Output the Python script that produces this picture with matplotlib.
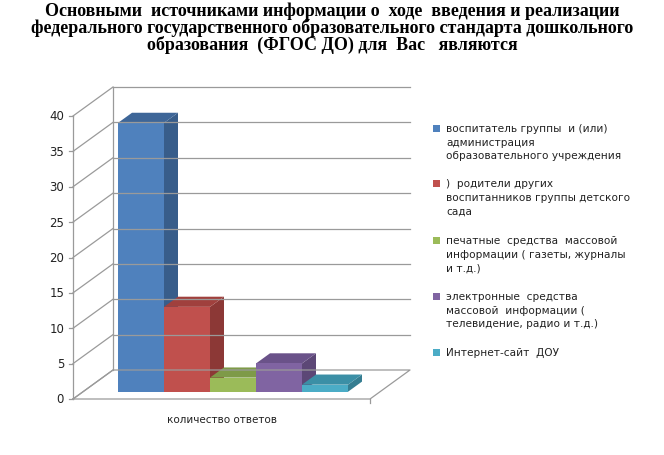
import matplotlib
matplotlib.use("Agg")
import matplotlib.pyplot as plt
from matplotlib.patches import Polygon

## data
title = ("Основными  источниками информации о  ходе  введения и реализации\n"
         "федерального государственного образовательного стандарта дошкольного\n"
         "образования  (ФГОС ДО) для  Вас   являются")
category = "количество ответов"
labels = ["воспитатель группы  и (или)\nадминистрация\nобразовательного учреждения",
          ")  родители других\nвоспитанников группы детского\nсада",
          "печатные  средства  массовой\nинформации ( газеты, журналы\nи т.д.)",
          "электронные  средства\nмассовой  информации (\nтелевидение, радио и т.д.)",
          "Интернет-сайт  ДОУ"]
values = [38, 12, 2, 4, 1]
yticks = [0, 5, 10, 15, 20, 25, 30, 35, 40]
front = ["#4F81BD", "#C0504D", "#9BBB59", "#8064A2", "#4BACC6"]
side = ["#385D8A", "#8C3836", "#71893F", "#5C4776", "#357D91"]
top = ["#3E6698", "#A0403D", "#7E9A48", "#6A5289", "#3B8FA6"]

W, H = 664, 456
fig = plt.figure(figsize=(W / 100, H / 100), dpi=100)
fig.patch.set_facecolor("white")
# axes: x 0..1 spans the front floor, y in value units
x0, x1, y0, y1 = 73, 370, 400, 117
ax = fig.add_axes([x0 / W, 1 - y0 / H, (x1 - x0) / W, (y0 - y1) / H])
ax.set_xlim(0, 1)
ax.set_ylim(0, 40)
ax.axis("off")
ddx = 40 / (x1 - x0)            # full depth offset in x units
ddy = 29 / (y0 - y1) * 40        # full depth offset in value units
gc = "#9a9a9a"

def off(f):
    return ddx * f, ddy * f

# back wall gridlines and side wall lines
bx, by = off(1)
for t in yticks:
    if t > 0:
        ax.plot([bx, 1 + bx], [t + by, t + by], color=gc, lw=0.9, clip_on=False)
    ax.plot([0, bx], [t, t + by], color=gc, lw=0.9, clip_on=False)
    ax.text(-0.03, t, str(t), ha="right", va="center", fontsize=8.5, color="#222222")
    ax.plot([-0.012, 0], [t, t], color=gc, lw=0.9, clip_on=False)
# floor
ax.plot([0, 1, 1 + bx, bx, 0], [0, 0, by, by, 0], color=gc, lw=0.9, clip_on=False)
ax.plot([bx, bx], [by, 40 + by], color=gc, lw=0.9, clip_on=False)
ax.plot([0, 0], [0, 40], color=gc, lw=0.9, clip_on=False)
ax.plot([1, 1], [0, -0.6], color=gc, lw=0.9, clip_on=False)

# bars
bw = 46 / (x1 - x0)
start = (118 - x0) / (x1 - x0)
fx, fy = off(0.25)
sx, sy = off(0.35)
for i, v in enumerate(values):
    l = start + i * bw
    r = l + bw
    b = fy
    t = v + fy
    ax.add_patch(Polygon([(r, b), (r + sx, b + sy), (r + sx, t + sy), (r, t)],
                         closed=True, fc=side[i], ec="none", clip_on=False))
    ax.add_patch(Polygon([(l, t), (r, t), (r + sx, t + sy), (l + sx, t + sy)],
                         closed=True, fc=top[i], ec="none", clip_on=False))
    ax.add_patch(Polygon([(l, b), (r, b), (r, t), (l, t)],
                         closed=True, fc=front[i], ec="none", clip_on=False))

ax.text(0.5, -2.8, category, ha="center", va="center", fontsize=7.5, color="#222222")

# legend
ly = [130, 185, 242, 298, 354]
for i, lab in enumerate(labels):
    fig.patches.append(plt.Rectangle((433 / W, 1 - (ly[i] + 3) / H), 7 / W, 7 / H,
                                     transform=fig.transFigure, fc=front[i], ec="none"))
    fig.text(446 / W, 1 - (ly[i] - 6) / H, lab, ha="left", va="top",
             fontsize=7.6, color="#222222", linespacing=1.45)

fig.text(0.5, 0.995, title, ha="center", va="top", fontsize=13,
         fontweight="bold", family="Liberation Serif", linespacing=0.95)

fig.savefig("out.png", dpi=100)
